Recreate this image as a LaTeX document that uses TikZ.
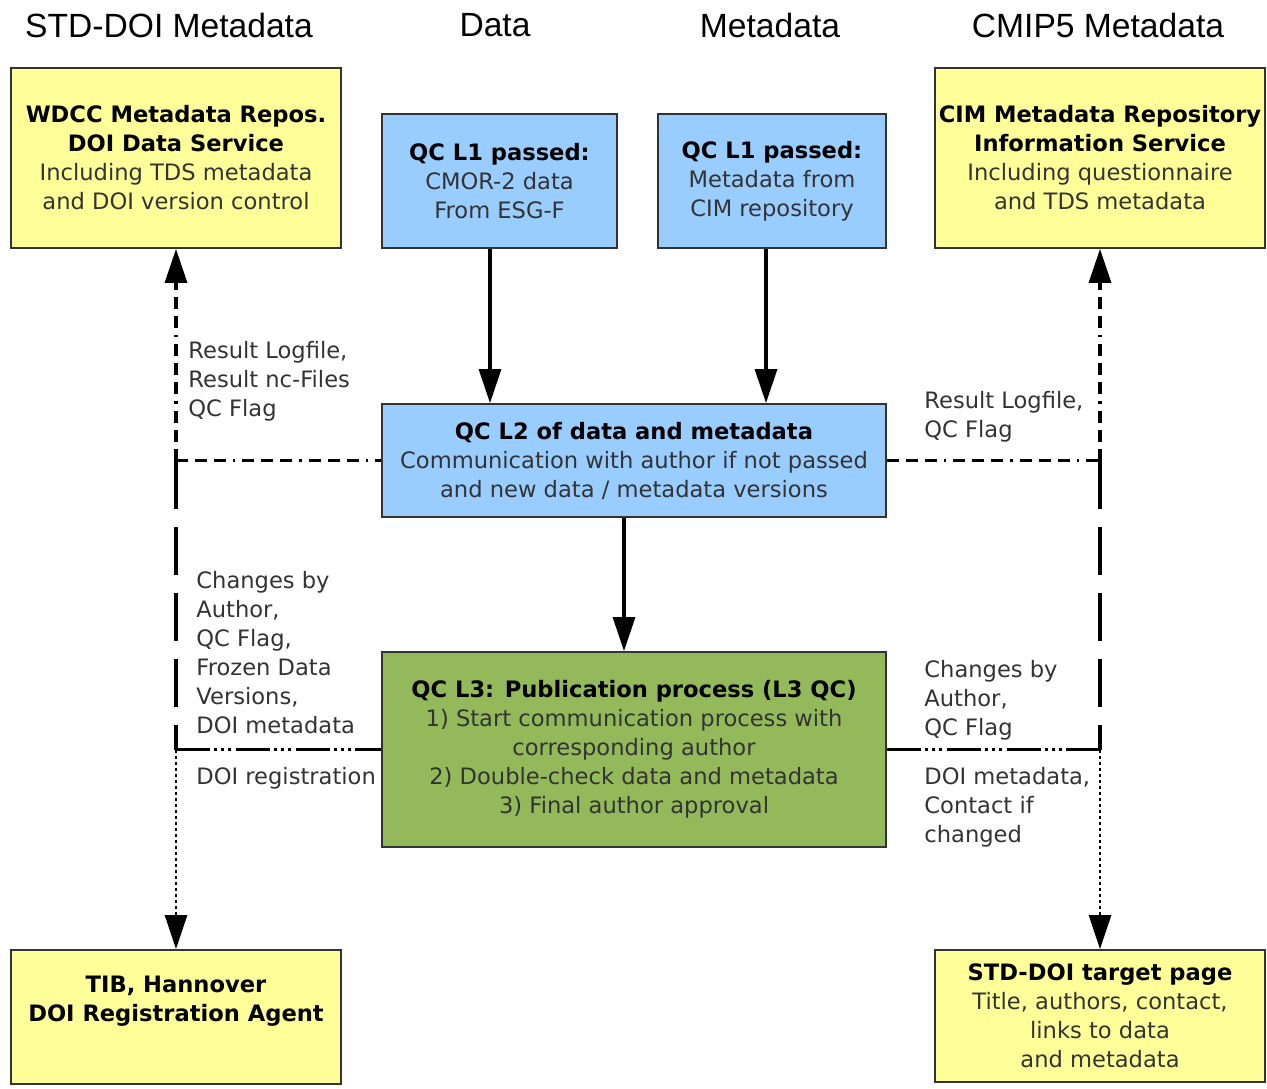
\documentclass[tikz,border=0pt]{standalone}
\usepackage{fontspec}
\setmainfont{DejaVu Sans}
\newfontfamily\hdrfont{Liberation Sans}
\usetikzlibrary{arrows.meta}
\definecolor{boxyellow}{HTML}{FFFF99}
\definecolor{boxblue}{HTML}{99CCFF}
\definecolor{boxgreen}{HTML}{93B95A}
\newcommand\bodysz{\fontsize{11.3}{14.5}\selectfont}
\begin{document}
\begin{tikzpicture}[x=0.5pt,y=-0.5pt,
  box/.style={draw=black!80, line width=0.9pt, inner sep=0pt, align=center, font=\bodysz, text=black!80},
  lbl/.style={anchor=north west, inner sep=0pt, align=left, font=\bodysz, text=black!80},
  hdr/.style={font=\hdrfont\fontsize{16.8}{19}\selectfont, inner sep=0pt},
  conn/.style={line width=1.6pt, black},
  arr/.style={-{Triangle[length=17pt,width=11pt]}},
  dashdot/.style={conn, dash pattern=on 6pt off 3.5pt on 6pt off 3.5pt on 6pt off 3.5pt on 1.2pt off 3.5pt},
  longdash/.style={conn, dash pattern=on 24pt off 9pt},
  dotdash/.style={conn, dash pattern=on 17pt off 2.2pt on 1.5pt off 2pt on 1.5pt off 2pt on 1.5pt off 2.2pt},
  dotline/.style={conn, line width=1.4pt, dash pattern=on 1.5pt off 1.5pt}]
\useasboundingbox (0,0) rectangle (1267,1088);

% headers
\node[hdr] (h1) at (169,25) {STD-DOI Metadata};
\node[hdr] (h2) at (495,25) {Data};
\node[hdr] (h3) at (770,25) {Metadata};
\node[hdr] (h4) at (1098,25) {CMIP5 Metadata};

% boxes
\node[box, fill=boxyellow, minimum width=165pt, minimum height=90pt] (wdcc) at (176,158)
  {\textbf{\color{black}WDCC Metadata Repos.}\\\textbf{\color{black}DOI Data Service}\\Including TDS metadata\\and DOI version control};
\node[box, fill=boxyellow, minimum width=165pt, minimum height=90pt] (cim) at (1100,158)
  {\textbf{\color{black}CIM Metadata Repository}\\\textbf{\color{black}Information Service}\\Including questionnaire\\and TDS metadata};
\node[box, fill=boxblue, minimum width=117.5pt, minimum height=67pt] (l1d) at (499.5,181)
  {\textbf{\color{black}QC L1 passed:}\\CMOR-2 data\\From ESG-F};
\node[box, fill=boxblue, minimum width=114pt, minimum height=67pt] (l1m) at (772,181)
  {\textbf{\color{black}QC L1 passed:}\\Metadata from\\CIM repository};
\node[box, fill=boxblue, minimum width=252pt, minimum height=56.5pt] (l2) at (634,460.5)
  {\textbf{\color{black}QC L2 of data and metadata}\\Communication with author if not passed\\and new data / metadata versions};
\node[box, fill=boxgreen, minimum width=252pt, minimum height=97.5pt] (l3) at (634,749.5)
  {\textbf{\color{black}QC L3: Publication process (L3 QC)}\\1) Start communication process with\\corresponding author\\2) Double-check data and metadata\\3) Final author approval};
\node[box, fill=boxyellow, minimum width=165pt, minimum height=67pt] (tib) at (176,1017) {};
\node[box, draw=none, font=\bodysz\bfseries, text=black] (tibtxt) at (176,1001) {TIB, Hannover\\DOI Registration Agent};
\node[box, fill=boxyellow, minimum width=165pt, minimum height=66pt] (tgt) at (1100,1016)
  {\textbf{\color{black}STD-DOI target page}\\Title, authors, contact,\\links to data\\and metadata};

% junctions
\coordinate (j1) at (wdcc.south |- l2.west);
\coordinate (j3) at (wdcc.south |- l3.west);
\coordinate (j2) at (cim.south |- l2.east);
\coordinate (j4) at (cim.south |- l3.east);
\coordinate (c490) at (490,0);
\coordinate (c766) at (766,0);
\coordinate (c624) at (624,0);

% solid arrows
\draw[conn, arr] (l1d.south -| c490) -- (l2.north -| c490);
\draw[conn, arr] (l1m.south -| c766) -- (l2.north -| c766);
\draw[conn, arr] (l2.south -| c624) -- (l3.north -| c624);

% left side
\draw[dashdot, arr] (j1) -- (wdcc.south);
\draw[dashdot] (j1) -- (l2.west);
\draw[longdash] (j1) -- (j3);
\draw[dotdash] (j3) -- (l3.west);
\draw[dotline, arr] (j3) -- (tib.north);

% right side
\draw[dashdot, arr] (j2) -- (cim.south);
\draw[dashdot] (l2.east) -- (j2);
\draw[longdash] (j2) -- (j4);
\draw[dotdash] (l3.east) -- (j4);
\draw[dotline, arr] (j4) -- (tgt.north);

% labels
\node[lbl] (t1) at (188,338) {\strut Result Logfile,\\Result nc-Files\\QC Flag};
\node[lbl] (t2) at (924,388) {\strut Result Logfile,\\QC Flag};
\node[lbl] (t3) at (196,568) {\strut Changes by\\Author,\\QC Flag,\\Frozen Data\\Versions,\\DOI metadata};
\node[lbl] (t4) at (196,764) {\strut DOI registration};
\node[lbl] (t5) at (924,657) {\strut Changes by\\Author,\\QC Flag};
\node[lbl] (t6) at (924,764) {\strut DOI metadata,\\Contact if\\changed};
\end{tikzpicture}
\end{document}
